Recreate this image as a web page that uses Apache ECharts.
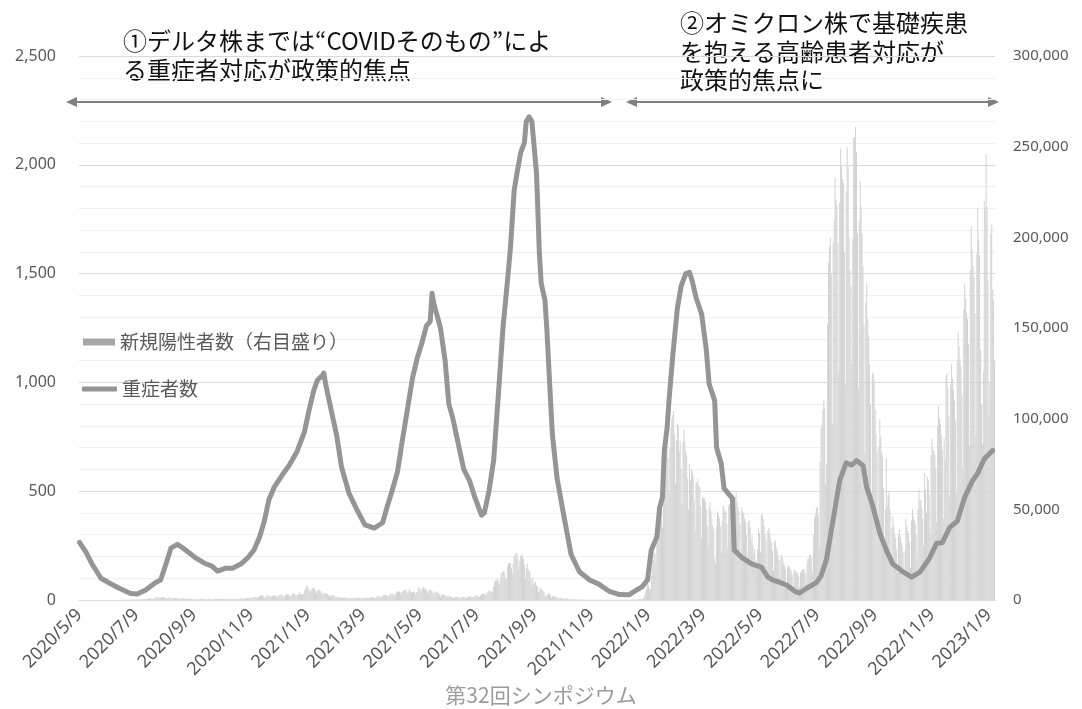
<!DOCTYPE html>
<html>
<head>
<meta charset="utf-8">
<script src="https://cdn.jsdelivr.net/npm/echarts@6/dist/echarts.min.js"></script>
<style>
  html, body { margin: 0; padding: 0; background: #ffffff; }
  #chart { width: 1082px; height: 709px; }
</style>
</head>
<body>
<div id="chart"></div>
<script>
// Daily new positive cases (thousands), one array per calendar year.
// Rows are Monday..Sunday weeks; partial weeks at the year edges.
const cases2020 = [
  0.11, 0.06,                                   // 5/9 - 5/10
  0.05, 0.09, 0.06, 0.1, 0.08, 0.05, 0.03,      // 5/11
  0.03, 0.03, 0.04, 0.03, 0.03, 0.02, 0.02,     // 5/18
  0.02, 0.03, 0.04, 0.04, 0.05, 0.05, 0.04,     // 5/25
  0.03, 0.05, 0.04, 0.05, 0.05, 0.05, 0.05,     // 6/1
  0.03, 0.05, 0.04, 0.04, 0.05, 0.05, 0.05,     // 6/8
  0.03, 0.05, 0.05, 0.05, 0.07, 0.06, 0.06,     // 6/15
  0.05, 0.06, 0.08, 0.1, 0.11, 0.1, 0.13,       // 6/22
  0.09, 0.12, 0.13, 0.2, 0.25, 0.27, 0.26,      // 6/29
  0.2, 0.22, 0.33, 0.36, 0.43, 0.4, 0.29,       // 7/6
  0.27, 0.38, 0.45, 0.62, 0.59, 0.67, 0.51,     // 7/13
  0.42, 0.63, 0.8, 0.98, 0.77, 0.78, 0.6,       // 7/20
  0.6, 0.98, 1.26, 1.3, 1.58, 1.54, 1.33,       // 7/27
  0.96, 1.24, 1.36, 1.48, 1.6, 1.43, 1.1,       // 8/3
  0.85, 0.8, 1.18, 1.2, 1.36, 1.26, 0.94,       // 8/10
  0.6, 0.9, 1.13, 1.0, 1.03, 0.85, 0.75,        // 8/17
  0.5, 0.68, 0.85, 0.85, 0.87, 0.77, 0.65,      // 8/24
  0.44, 0.6, 0.63, 0.57, 0.59, 0.51, 0.43,      // 8/31
  0.3, 0.5, 0.51, 0.64, 0.55, 0.55, 0.43,       // 9/7
  0.27, 0.5, 0.58, 0.6, 0.53, 0.56, 0.38,       // 9/14
  0.27, 0.25, 0.38, 0.56, 0.55, 0.64, 0.48,     // 9/21
  0.31, 0.5, 0.6, 0.62, 0.63, 0.63, 0.52,       // 9/28
  0.35, 0.45, 0.55, 0.6, 0.67, 0.61, 0.5,       // 10/5
  0.3, 0.51, 0.57, 0.6, 0.67, 0.6, 0.42,        // 10/12
  0.35, 0.45, 0.6, 0.6, 0.72, 0.65, 0.53,       // 10/19
  0.46, 0.55, 0.7, 0.8, 0.87, 0.87, 0.76,       // 10/26
  0.61, 0.82, 0.95, 1.05, 1.15, 1.33, 1.15,     // 11/2
  0.9, 1.27, 1.55, 1.6, 1.7, 1.7, 1.4,          // 11/9
  1.0, 1.5, 2.2, 2.38, 2.43, 2.59, 2.17,        // 11/16
  1.22, 1.23, 1.95, 2.5, 2.5, 2.65, 2.0,        // 11/23
  1.4, 2.0, 2.4, 2.5, 2.45, 2.5, 2.0,           // 11/30
  1.6, 2.1, 2.8, 2.8, 3.05, 3.0, 2.4,           // 12/7
  1.7, 2.4, 3.0, 3.2, 3.0, 2.9, 2.5,            // 12/14
  1.8, 2.6, 3.2, 3.8, 3.3, 3.5, 2.8,            // 12/21
  2.4, 3.0, 3.6, 4.5                            // 12/28 - 12/31
];
const cases2021 = [
  3.2, 3.05, 3.1,                               // 1/1 - 1/3
  3.3, 4.9, 6.0, 7.5, 7.9, 7.0, 6.1,            // 1/4
  4.9, 4.5, 5.9, 6.6, 6.0, 6.6, 4.9,            // 1/11
  3.3, 5.3, 5.6, 5.5, 4.8, 4.7, 3.9,            // 1/18
  2.8, 3.9, 3.9, 3.8, 3.5, 3.3, 2.7,            // 1/25
  1.9, 2.3, 2.6, 2.6, 2.4, 2.3, 1.7,            // 2/1
  1.3, 1.6, 1.8, 1.7, 1.4, 1.4, 1.3,            // 2/8
  1.0, 1.3, 1.5, 1.3, 1.3, 1.3, 1.2,            // 2/15
  0.8, 1.0, 1.1, 1.1, 1.1, 1.2, 1.0,            // 2/22
  0.7, 1.2, 1.2, 1.2, 1.2, 1.1, 1.0,            // 3/1
  0.6, 1.1, 1.3, 1.3, 1.3, 1.3, 1.1,            // 3/8
  0.9, 1.0, 1.5, 1.5, 1.5, 1.5, 1.3,            // 3/15
  0.9, 1.5, 1.9, 2.0, 2.0, 2.0, 1.8,            // 3/22
  1.1, 2.0, 2.8, 2.6, 2.8, 2.8, 2.4,            // 3/29
  1.6, 2.6, 3.4, 3.5, 3.5, 3.7, 2.8,            // 4/5
  1.9, 3.4, 4.5, 4.5, 4.5, 4.8, 4.1,            // 4/12
  2.9, 4.3, 5.3, 5.5, 5.1, 5.6, 4.6,            // 4/19
  3.3, 4.8, 5.9, 4.7, 4.0, 4.6, 4.4,            // 4/26
  4.3, 3.1, 4.3, 4.4, 6.1, 7.2, 5.8,            // 5/3
  4.0, 5.6, 6.9, 7.0, 6.3, 6.4, 5.2,            // 5/10
  3.7, 5.0, 5.8, 5.5, 5.2, 5.0, 4.2,            // 5/17
  3.0, 4.0, 4.5, 4.5, 3.9, 3.7, 2.9,            // 5/24
  1.8, 2.8, 3.2, 3.0, 2.8, 2.6, 2.2,            // 5/31
  1.4, 2.2, 2.3, 2.1, 1.9, 1.8, 1.4,            // 6/7
  1.0, 1.5, 1.7, 1.8, 1.7, 1.6, 1.3,            // 6/14
  0.9, 1.4, 1.7, 1.8, 1.7, 1.6, 1.3,            // 6/21
  1.1, 1.6, 1.8, 1.9, 2.0, 1.9, 1.6,            // 6/28
  1.3, 1.8, 2.2, 2.3, 2.3, 2.3, 1.8,            // 7/5
  1.6, 2.4, 3.2, 3.4, 3.3, 3.4, 2.9,            // 7/12
  2.4, 3.8, 5.0, 5.4, 4.2, 4.9, 4.2,            // 7/19
  4.7, 7.6, 9.6, 10.7, 10.8, 12.3, 10.2,        // 7/26
  8.4, 12.0, 14.2, 15.3, 15.7, 15.8, 14.1,      // 8/2
  12.1, 12.0, 18.9, 20.4, 20.2, 20.2, 17.8,     // 8/9
  14.7, 19.9, 23.9, 25.1, 25.9, 25.5, 22.8,     // 8/16
  16.8, 21.6, 24.4, 24.9, 24.5, 22.8, 19.3,     // 8/23
  12.1, 17.3, 20.0, 16.8, 16.6, 15.1, 12.3,     // 8/30
  7.9, 12.6, 9.4, 9.0, 10.4, 8.2, 7.2,          // 9/6
  4.2, 5.8, 6.9, 5.9, 5.1, 5.2, 4.4,            // 9/13
  2.6, 2.0, 2.5, 3.0, 3.7, 3.3, 2.6,            // 9/20
  1.1, 1.9, 2.3, 2.0, 1.8, 1.6, 1.4,            // 9/27
  0.6, 0.9, 1.1, 1.1, 1.0, 0.8, 0.8,            // 10/4
  0.4, 0.6, 0.8, 0.8, 0.6, 0.5, 0.4,            // 10/11
  0.2, 0.4, 0.4, 0.4, 0.4, 0.3, 0.3,            // 10/18
  0.2, 0.3, 0.3, 0.3, 0.3, 0.3, 0.2,            // 10/25
  0.1, 0.2, 0.2, 0.3, 0.2, 0.2, 0.2,            // 11/1
  0.1, 0.2, 0.2, 0.2, 0.2, 0.2, 0.2,            // 11/8
  0.1, 0.1, 0.2, 0.2, 0.2, 0.2, 0.1,            // 11/15
  0.1, 0.1, 0.1, 0.1, 0.1, 0.1, 0.1,            // 11/22
  0.1, 0.1, 0.1, 0.1, 0.1, 0.1, 0.1,            // 11/29
  0.1, 0.1, 0.2, 0.2, 0.1, 0.1, 0.1,            // 12/6
  0.1, 0.1, 0.2, 0.2, 0.2, 0.2, 0.2,            // 12/13
  0.1, 0.2, 0.2, 0.3, 0.3, 0.2, 0.3,            // 12/20
  0.2, 0.3, 0.4, 0.5, 0.5                       // 12/27 - 12/31
];
const cases2022 = [
  0.5, 0.55,                                    // 1/1 - 1/2
  0.78, 1.27, 2.6, 4.5, 6.2, 8.5, 8.2,          // 1/3
  6.4, 6.4, 13.2, 18.8, 22.0, 25.7, 25.6,       // 1/10
  20.0, 32.2, 41.5, 46.2, 49.9, 54.6, 51.3,     // 1/17
  40.0, 55.4, 71.6, 78.9, 81.7, 84.9, 78.3,     // 1/24
  58.8, 84.2, 94.9, 100.0, 102.0, 104.2, 92.0,  // 1/31
  63.8, 88.0, 97.0, 96.0, 82.0, 88.0, 72.0,     // 2/7
  53, 87, 94, 88, 82, 80, 67,                   // 2/14
  50, 75, 66, 72, 71, 68, 55,                   // 2/21
  38, 65, 65, 67, 63, 62, 52,                   // 2/28
  34, 57, 56, 56, 54, 50, 41,                   // 3/7
  30, 51, 54, 49, 45, 41, 39,                   // 3/14
  23, 20, 41, 49, 47, 45, 41,                   // 3/21
  26, 44, 52, 51, 49, 49, 42,                   // 3/28
  29, 52, 53, 54, 51, 50, 43,                   // 4/4
  30, 57, 60, 54, 51, 49, 42,                   // 4/11
  26, 51, 49, 48, 45, 43, 36,                   // 4/18
  24, 43, 44, 40, 33, 35, 30,                   // 4/25
  25, 28, 22, 20, 28, 40, 37,                   // 5/2
  26, 47, 47, 45, 41, 37, 33,                   // 5/9
  18, 38, 40, 37, 34, 32, 27,                   // 5/16
  16, 32, 33, 29, 27, 25, 22,                   // 5/23
  12, 24, 25, 23, 20, 19, 17,                   // 5/30
  9, 18, 19, 18, 17, 16, 14,                    // 6/6
  7.5, 16, 17, 16, 15, 15, 13,                  // 6/13
  7, 15, 16, 17, 17, 17, 15,                    // 6/20
  9, 20, 23, 23, 25, 25, 23,                    // 6/27
  15, 36, 45, 47, 51, 51, 47,                   // 7/4
  29, 76, 95, 97, 105, 110, 106,                // 7/11
  64, 75, 152, 186, 195, 200, 180,              // 7/18
  97, 197, 209, 233, 221, 218, 197,             // 7/25
  125, 219, 249, 239, 232, 230, 192,            // 8/1
  119, 225, 250, 239, 200, 182, 173,            // 8/8
  130, 199, 255, 255, 261, 247, 202,            // 8/15
  117, 209, 231, 217, 202, 184, 152,            // 8/22
  81, 164, 175, 155, 146, 130, 108,             // 8/29
  59, 125, 125, 121, 105, 92, 82,               // 9/5
  45, 85, 100, 90, 82, 79, 62,                  // 9/12
  30, 50, 78, 52, 58, 60, 50,                   // 9/19
  22, 40, 46, 41, 36, 34, 28,                   // 9/26
  15, 36, 39, 35, 32, 30, 26,                   // 10/3
  16, 27, 45, 41, 38, 37, 32,                   // 10/10
  18, 44, 50, 46, 44, 42, 36,                   // 10/17
  22, 50, 61, 55, 55, 51, 45,                   // 10/24
  30, 70, 61, 48, 68, 66, 58,                   // 10/31
  36, 80, 89, 83, 82, 80, 73,                   // 11/7
  43, 96, 107, 100, 97, 91, 83,                 // 11/14
  45, 89, 77, 124, 125, 117, 101,               // 11/21
  57, 119, 130, 122, 116, 110, 99,              // 11/28
  59, 132, 148, 140, 133, 129, 113,             // 12/5
  72, 160, 174, 166, 158, 155, 141,             // 12/12
  85, 182, 206, 193, 184, 178, 158,             // 12/19
  91, 191, 216, 199, 190, 138                   // 12/26 - 12/31
];
const cases2023 = [
  108,                                          // 1/1
  86, 126, 220, 216, 246, 217, 176,             // 1/2
  102, 120, 202, 207, 171, 165, 132             // 1/9
];

// Severe cases (left scale)
const severeDates = [
  '2020/5/9', '2020/5/16', '2020/5/22', '2020/6/1', '2020/6/10', '2020/6/20', '2020/7/3', '2020/7/10',
  '2020/7/19', '2020/7/30', '2020/8/4', '2020/8/10', '2020/8/15', '2020/8/22', '2020/8/31', '2020/9/11',
  '2020/9/20', '2020/9/28', '2020/10/4', '2020/10/13', '2020/10/20', '2020/10/29', '2020/11/5', '2020/11/12',
  '2020/11/18', '2020/11/23', '2020/11/28', '2020/12/4', '2020/12/12', '2020/12/20', '2020/12/28',
  '2021/1/5', '2021/1/10', '2021/1/15', '2021/1/19', '2021/1/24', '2021/1/26', '2021/1/28', '2021/2/3',
  '2021/2/9', '2021/2/14', '2021/2/22', '2021/3/3', '2021/3/11', '2021/3/21', '2021/3/30', '2021/4/4',
  '2021/4/9', '2021/4/15', '2021/4/20', '2021/4/25', '2021/5/1', '2021/5/6', '2021/5/11', '2021/5/16',
  '2021/5/20', '2021/5/22', '2021/5/24', '2021/5/27', '2021/5/31', '2021/6/5', '2021/6/9', '2021/6/13',
  '2021/6/17', '2021/6/21', '2021/6/25', '2021/7/1', '2021/7/7', '2021/7/14', '2021/7/17', '2021/7/22',
  '2021/7/27', '2021/7/30', '2021/8/2', '2021/8/6', '2021/8/11', '2021/8/14', '2021/8/18', '2021/8/21',
  '2021/8/25', '2021/8/29', '2021/8/31', '2021/9/3', '2021/9/6', '2021/9/11', '2021/9/14', '2021/9/16',
  '2021/9/20', '2021/9/22', '2021/9/25', '2021/9/28', '2021/10/3', '2021/10/11', '2021/10/18', '2021/10/27',
  '2021/11/7', '2021/11/17', '2021/11/28', '2021/12/9', '2021/12/19', '2021/12/27',
  '2022/1/2', '2022/1/8', '2022/1/12', '2022/1/18', '2022/1/21', '2022/1/24', '2022/1/26', '2022/1/29',
  '2022/1/31', '2022/2/4', '2022/2/9', '2022/2/13', '2022/2/18', '2022/2/22', '2022/2/25', '2022/3/1',
  '2022/3/7', '2022/3/12', '2022/3/15', '2022/3/21', '2022/3/23', '2022/3/28', '2022/3/31', '2022/4/9',
  '2022/4/11', '2022/4/20', '2022/4/30', '2022/5/10', '2022/5/17', '2022/5/22', '2022/5/29', '2022/6/6',
  '2022/6/15', '2022/6/20', '2022/6/28', '2022/7/8', '2022/7/13', '2022/7/19', '2022/7/24', '2022/7/28',
  '2022/8/2', '2022/8/9', '2022/8/15', '2022/8/20', '2022/8/27', '2022/8/31', '2022/9/6', '2022/9/14',
  '2022/9/21', '2022/9/28', '2022/10/8', '2022/10/18', '2022/10/27', '2022/11/6', '2022/11/14', '2022/11/20',
  '2022/11/28', '2022/12/6', '2022/12/14', '2022/12/22', '2022/12/28', '2023/1/4', '2023/1/13'
];
const severeCounts = [
  265, 220, 169, 100, 78, 55, 30, 28,
  46, 82, 92, 169, 238, 256, 229, 192,
  169, 156, 133, 146, 146, 165, 192, 229,
  288, 360, 460, 520, 572, 620, 680,
  770, 870, 960, 1010, 1030, 1043, 990, 870,
  750, 610, 490, 410, 345, 330, 355, 430,
  500, 590, 730, 860, 1020, 1110, 1180, 1260,
  1280, 1410, 1360, 1314, 1250, 1100, 900, 840,
  760, 680, 600, 550, 470, 390, 400, 500,
  640, 820, 1000, 1250, 1474, 1616, 1882, 1960,
  2056, 2101, 2200, 2220, 2200, 1960, 1598, 1456,
  1378, 1250, 1000, 760, 560, 370, 210, 130,
  92, 72, 40, 25, 24, 45,
  60, 92, 229, 290, 426, 472, 687, 792,
  916, 1120, 1342, 1442, 1500, 1506, 1465, 1390,
  1314, 1150, 994, 916, 701, 627, 513, 467,
  229, 192, 165, 151, 105, 92, 82, 69,
  40, 32, 55, 80, 110, 190, 320, 420,
  550, 630, 620, 641, 618, 517, 440, 307,
  229, 165, 132, 105, 128, 190, 261, 263,
  334, 362, 472, 545, 583, 648, 687
];

// Dates shown under the horizontal axis
const xTickLabels = [
  '2020/5/9', '2020/7/9', '2020/9/9', '2020/11/9', '2021/1/9', '2021/3/9', '2021/5/9', '2021/7/9',
  '2021/9/9', '2021/11/9', '2022/1/9', '2022/3/9', '2022/5/9', '2022/7/9', '2022/9/9', '2022/11/9', '2023/1/9'
];

const SERIES_CASES = '新規陽性者数（右目盛り）';
const SERIES_SEVERE = '重症者数';
const JP_FONT = '"Noto Sans CJK JP", "Noto Sans", sans-serif';
const NUM_FONT = '"Noto Sans", "Noto Sans CJK JP", sans-serif';

// One category per calendar day, starting 2020/5/9
const dailyCases = [].concat(cases2020, cases2021, cases2022, cases2023).map(v => Math.round(v * 1000));
const FIRST_DAY = Date.UTC(2020, 4, 9);
const days = dailyCases.map((_, i) => {
  const t = new Date(FIRST_DAY + i * 86400000);
  return t.getUTCFullYear() + '/' + (t.getUTCMonth() + 1) + '/' + t.getUTCDate();
});
const tickSet = new Set(xTickLabels);
const severeData = severeDates.map((d, i) => [d, severeCounts[i]]);
const fmt = v => Number(v).toLocaleString('en-US');

const arrowColor = '#7f7f7f';
function doubleArrow(x1, x2, y) {
  return {
    type: 'group',
    silent: true,
    children: [
      { type: 'line', shape: { x1: x1 + 6, y1: y, x2: x2 - 6, y2: y }, style: { stroke: arrowColor, lineWidth: 2 } },
      { type: 'polygon', shape: { points: [[x1, y], [x1 + 11, y - 5], [x1 + 11, y + 5]] }, style: { fill: arrowColor } },
      { type: 'polygon', shape: { points: [[x2, y], [x2 - 11, y - 5], [x2 - 11, y + 5]] }, style: { fill: arrowColor } }
    ]
  };
}

const chart = echarts.init(document.getElementById('chart'), null, { renderer: 'canvas' });
chart.setOption({
  animation: false,
  backgroundColor: '#ffffff',
  grid: { left: 79, right: 87, top: 56, bottom: 109, containLabel: false },
  legend: [
    {
      data: [{ name: SERIES_CASES, icon: 'rect' }],
      left: 83, top: 332, padding: 0, itemWidth: 32, itemHeight: 7, itemGap: 0,
      selectedMode: false,
      itemStyle: { color: '#a6a6a6', borderWidth: 0 },
      textStyle: { fontFamily: JP_FONT, fontSize: 19, color: '#595959', lineHeight: 20 }
    },
    {
      data: [{ name: SERIES_SEVERE, icon: 'roundRect' }],
      left: 82, top: 379, padding: 0, itemWidth: 35, itemHeight: 5, itemGap: 0,
      selectedMode: false,
      itemStyle: { color: '#959595', borderWidth: 0 },
      textStyle: { fontFamily: JP_FONT, fontSize: 19, color: '#595959', lineHeight: 20 }
    }
  ],
  xAxis: {
    type: 'category',
    data: days,
    boundaryGap: true,
    axisLine: { show: true, lineStyle: { color: '#d9d9d9', width: 1 } },
    axisTick: { show: false },
    splitLine: { show: false },
    axisLabel: {
      interval: (idx, val) => tickSet.has(val),
      rotate: 45,
      margin: 12,
      color: '#595959',
      fontFamily: NUM_FONT,
      fontSize: 18
    }
  },
  yAxis: [
    {
      type: 'value', position: 'left', min: 0, max: 2500, interval: 500,
      axisLine: { show: false }, axisTick: { show: false },
      axisLabel: { margin: 23, color: '#595959', fontFamily: NUM_FONT, fontSize: 16, formatter: fmt },
      splitLine: { show: true, lineStyle: { color: '#d9d9d9', width: 1 } },
      minorTick: { show: false, splitNumber: 5 },
      minorSplitLine: { show: true, lineStyle: { color: '#f0f0f0', width: 1 } }
    },
    {
      type: 'value', position: 'right', min: 0, max: 300000, interval: 50000,
      axisLine: { show: false }, axisTick: { show: false },
      axisLabel: { margin: 18, color: '#595959', fontFamily: NUM_FONT, fontSize: 15, formatter: fmt },
      splitLine: { show: false }
    }
  ],
  series: [
    {
      name: SERIES_CASES,
      type: 'bar',
      yAxisIndex: 1,
      data: dailyCases,
      barWidth: 0.7,
      itemStyle: { color: '#d3d3d3' },
      silent: true,
      z: 1
    },
    {
      name: SERIES_SEVERE,
      type: 'line',
      yAxisIndex: 0,
      data: severeData,
      symbol: 'none',
      smooth: false,
      lineStyle: { color: '#959595', width: 5, join: 'round', cap: 'round' },
      itemStyle: { color: '#959595' },
      silent: true,
      z: 3
    }
  ],
  graphic: [
    {
      type: 'text', left: 123, top: 26, silent: true,
      style: {
        text: '①デルタ株までは“COVIDそのもの”によ\nる重症者対応が政策的焦点',
        font: '24px ' + JP_FONT, fill: '#111111', lineHeight: 29
      }
    },
    {
      type: 'text', left: 680, top: 9, silent: true,
      style: {
        text: '②オミクロン株で基礎疾患\nを抱える高齢患者対応が\n政策的焦点に',
        font: '24px ' + JP_FONT, fill: '#111111', lineHeight: 28.5
      }
    },
    doubleArrow(66, 612, 102),
    doubleArrow(626, 999, 102),
    {
      type: 'text', left: 'center', top: 685, silent: true,
      style: { text: '第32回シンポジウム', font: '21px ' + JP_FONT, fill: '#9b9b9b' }
    }
  ]
});
</script>
</body>
</html>
